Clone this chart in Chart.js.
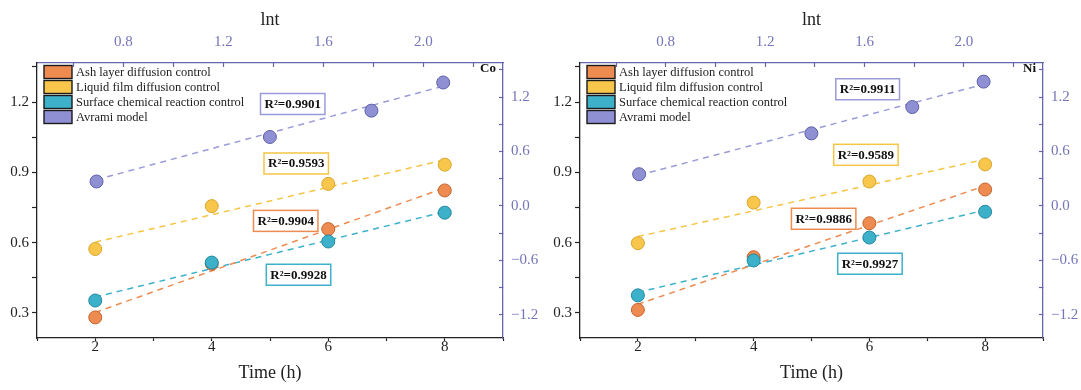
<!DOCTYPE html>
<html><head><meta charset="utf-8">
<script src="https://cdn.jsdelivr.net/npm/chart.js@4/dist/chart.umd.min.js"></script>
<style>
html,body{margin:0;padding:0;background:#fff;}
#wrap{position:relative;width:1081px;height:390px;overflow:hidden;}
canvas{position:absolute;top:0;}
</style></head><body>
<div id="wrap">
<canvas id="co" width="540" height="390" style="left:0"></canvas>
<canvas id="ni" width="541" height="390" style="left:540px"></canvas>
</div>
<script>
// ---------- data ----------
const timeH = [2, 4, 6, 8];
const lnT = [0.693, 1.386, 1.792, 2.079];
const fitT = [2, 8];
const fitLnT = [0.693, 2.079];
const seriesNames = ['Ash layer diffusion control', 'Liquid film diffusion control', 'Surface chemical reaction control', 'Avrami model'];

const coAsh = [0.281, 0.510, 0.658, 0.823];
const coLiquid = [0.573, 0.756, 0.851, 0.933];
const coSurface = [0.353, 0.515, 0.605, 0.728];
const coAvrami = [0.27, 0.76, 1.05, 1.36];
const coFitAsh = [0.302, 0.834];
const coFitLiquid = [0.602, 0.954];
const coFitSurface = [0.368, 0.732];
const coFitAvrami = [0.29, 1.32];
const coR2 = ['0.9904', '0.9593', '0.9928', '0.9901'];

const niAsh = [0.313, 0.538, 0.683, 0.827];
const niLiquid = [0.598, 0.771, 0.861, 0.934];
const niSurface = [0.375, 0.524, 0.622, 0.732];
const niAvrami = [0.35, 0.80, 1.09, 1.37];
const niFitAsh = [0.337, 0.843];
const niFitLiquid = [0.626, 0.956];
const niFitSurface = [0.388, 0.739];
const niFitAvrami = [0.34, 1.34];
const niR2 = ['0.9886', '0.9589', '0.9927', '0.9911'];

const timeTicks = [1, 2, 3, 4, 5, 6, 7, 8, 9];
const timeLabels = [2, 4, 6, 8];
const lntTicks = [0.6, 0.8, 1.0, 1.2, 1.4, 1.6, 1.8, 2.0, 2.2];
const lntLabels = [0.8, 1.2, 1.6, 2.0];
const leftTicks = [0.3, 0.45, 0.6, 0.75, 0.9, 1.05, 1.2, 1.35];
const leftLabels = [0.3, 0.6, 0.9, 1.2];
const rightTicks = [-1.2, -0.9, -0.6, -0.3, 0, 0.3, 0.6, 0.9, 1.2, 1.5];
const rightLabels = [-1.2, -0.6, 0, 0.6, 1.2];

// ---------- styles ----------
const fillCols = ['#EE8B50', '#F7C64A', '#3DB1CA', '#8F90D4'];
const edgeCols = ['#C4652D', '#D7A62C', '#1F889F', '#5E60A8'];
const lineCols = ['#EE8B50', '#F5C545', '#3DB1CA', '#9A9BD9'];
const purpleAxis = '#6566AE';
const purpleText = '#7475B9';
const SERIF = '"Liberation Serif", "DejaVu Serif", serif';

function hasLabel(list, v) { return list.some(l => Math.abs(l - v) < 1e-6); }
function fmt1(v) { return v.toFixed(1).replace('-', '\u2212'); }

function makeChart(id, d) {
  const ptSets = [d.ash, d.liquid, d.surface];
  const fitSets = [d.fitAsh, d.fitLiquid, d.fitSurface];
  const datasets = [];
  fitSets.forEach((f, i) => {
    datasets.push({
      type: 'line', label: 'fit' + i,
      data: fitT.map((t, k) => ({ x: t, y: f[k] })),
      borderColor: lineCols[i], borderWidth: 1.5, borderDash: [6, 5],
      pointRadius: 0, fill: false, xAxisID: 'x', yAxisID: 'y', order: 20
    });
  });
  datasets.push({
    type: 'line', label: 'fitA',
    data: fitLnT.map((t, k) => ({ x: t, y: d.fitAvrami[k] })),
    borderColor: lineCols[3], borderWidth: 1.5, borderDash: [6, 5],
    pointRadius: 0, fill: false, xAxisID: 'x2', yAxisID: 'y2', order: 20
  });
  const ptOrder = [5, 4, 3, 2];
  ptSets.forEach((s, i) => {
    datasets.push({
      type: 'scatter', label: seriesNames[i],
      data: timeH.map((t, k) => ({ x: t, y: s[k] })),
      backgroundColor: fillCols[i], borderColor: edgeCols[i], borderWidth: 1,
      pointRadius: 6.5, pointHoverRadius: 6.5, xAxisID: 'x', yAxisID: 'y', order: ptOrder[i]
    });
  });
  datasets.push({
    type: 'scatter', label: seriesNames[3],
    data: lnT.map((t, k) => ({ x: t, y: d.avrami[k] })),
    backgroundColor: fillCols[3], borderColor: edgeCols[3], borderWidth: 1,
    pointRadius: 6.5, pointHoverRadius: 6.5, xAxisID: 'x2', yAxisID: 'y2', order: ptOrder[3]
  });

  const tickSet = (arr) => (scale) => { scale.ticks = arr.map(v => ({ value: v })); };

  const overlay = {
    id: 'overlay',
    afterDatasetsDraw(chart) {
      const ctx = chart.ctx, ca = chart.chartArea;
      const sx = chart.scales.x, sy = chart.scales.y;
      ctx.save();
      seriesNames.forEach((name, i) => {
        const top = ca.top + 2.5 + i * 15;
        ctx.fillStyle = fillCols[i];
        ctx.fillRect(ca.left + 7, top, 28, 13);
        ctx.lineWidth = 1.4;
        ctx.strokeStyle = '#1a1a1a';
        ctx.strokeRect(ca.left + 7, top, 28, 13);
        ctx.fillStyle = '#222';
        ctx.font = '12.5px ' + SERIF;
        ctx.textAlign = 'left';
        ctx.textBaseline = 'middle';
        ctx.fillText(name, ca.left + 39, top + 7);
      });
      ctx.font = 'bold 13px ' + SERIF;
      ctx.textAlign = 'right';
      ctx.fillStyle = '#111';
      ctx.fillText(d.metal, ca.right - 7, ca.top + 6);
      d.r2.forEach((r, i) => {
        const p = d.r2Pos[i];
        const cx = sx.getPixelForValue(p[0]);
        const cy = sy.getPixelForValue(p[1]);
        const txt = 'R\u00B2=' + r;
        ctx.font = 'bold 13px ' + SERIF;
        const w = ctx.measureText(txt).width + 8;
        const h = 21;
        ctx.fillStyle = '#fff';
        ctx.fillRect(cx - w / 2, cy - h / 2, w, h);
        ctx.strokeStyle = lineCols[i];
        ctx.lineWidth = 1.5;
        ctx.strokeRect(cx - w / 2, cy - h / 2, w, h);
        ctx.fillStyle = '#111';
        ctx.textAlign = 'center';
        ctx.textBaseline = 'middle';
        ctx.fillText(txt, cx, cy + 0.5);
      });
      ctx.restore();
    }
  };

  return new Chart(document.getElementById(id), {
    data: { datasets },
    options: {
      responsive: false, animation: false, devicePixelRatio: 1,
      layout: { padding: 0 },
      plugins: { legend: { display: false }, tooltip: { enabled: false } },
      scales: {
        x: {
          type: 'linear', position: 'bottom', min: 1, max: 9, bounds: 'data',
          afterBuildTicks: tickSet(timeTicks),
          afterFit: (s) => { s.height = d.bottomH; },
          border: { display: true, color: '#222', width: 1.3 },
          grid: { drawOnChartArea: false, drawTicks: true, tickLength: 3, tickColor: '#222', tickWidth: 1.2 },
          ticks: { autoSkip: false, maxRotation: 0, padding: -1, color: '#222',
            font: { family: SERIF, size: 15, lineHeight: 1 },
            callback: (v) => hasLabel(timeLabels, v) ? String(v) : '' },
          title: { display: true, text: 'Time (h)', color: '#222',
            font: { family: SERIF, size: 18, lineHeight: 1.2 }, padding: { top: 0, bottom: 6 } }
        },
        x2: {
          type: 'linear', position: 'top', min: 0.455, max: 2.318, bounds: 'data',
          afterBuildTicks: tickSet(lntTicks),
          afterFit: (s) => { s.height = d.topH; },
          border: { display: true, color: purpleAxis, width: 1.3 },
          grid: { drawOnChartArea: false, drawTicks: true, tickLength: -4, tickColor: purpleAxis, tickWidth: 1.2 },
          ticks: { autoSkip: false, maxRotation: 0, padding: 17, color: purpleText,
            font: { family: SERIF, size: 15, lineHeight: 1 },
            callback: (v) => hasLabel(lntLabels, v) ? v.toFixed(1) : '' },
          title: { display: true, text: 'lnt', color: '#222',
            font: { family: SERIF, size: 18, lineHeight: 1.2 }, padding: { top: 9.5, bottom: 0 } }
        },
        y: {
          type: 'linear', position: 'left', min: 0.193, max: 1.367, bounds: 'data',
          afterBuildTicks: tickSet(leftTicks),
          afterFit: (s) => { s.width = d.leftW; },
          border: { display: true, color: '#222', width: 1.3 },
          grid: { drawOnChartArea: false, drawTicks: true, tickLength: 5, tickColor: '#222', tickWidth: 1.2 },
          ticks: { autoSkip: false, padding: 3, color: '#222',
            font: { family: SERIF, size: 15, lineHeight: 1 },
            callback: (v) => hasLabel(leftLabels, v) ? fmt1(v) : '' }
        },
        y2: {
          type: 'linear', position: 'right', min: -1.454, max: 1.575, bounds: 'data',
          afterBuildTicks: tickSet(rightTicks),
          afterFit: (s) => { s.width = d.rightW; },
          border: { display: true, color: purpleAxis, width: 1.3 },
          grid: { drawOnChartArea: false, drawTicks: true, tickLength: -4, tickColor: purpleAxis, tickWidth: 1.2 },
          ticks: { autoSkip: false, padding: 12, color: purpleText,
            font: { family: SERIF, size: 15, lineHeight: 1 },
            callback: (v) => hasLabel(rightLabels, v) ? fmt1(v) : '' }
        }
      }
    },
    plugins: [overlay]
  });
}

makeChart('co', {
  metal: 'Co', ash: coAsh, liquid: coLiquid, surface: coSurface, avrami: coAvrami,
  fitAsh: coFitAsh, fitLiquid: coFitLiquid, fitSurface: coFitSurface, fitAvrami: coFitAvrami,
  r2: coR2, r2Pos: [[5.27, 0.693], [5.45, 0.938], [5.49, 0.463], [5.39, 1.192]],
  leftW: 37, rightW: 37, topH: 63, bottomH: 52
});
makeChart('ni', {
  metal: 'Ni', ash: niAsh, liquid: niLiquid, surface: niSurface, avrami: niAvrami,
  fitAsh: niFitAsh, fitLiquid: niFitLiquid, fitSurface: niFitSurface, fitAvrami: niFitAvrami,
  r2: niR2, r2Pos: [[5.21, 0.702], [5.94, 0.975], [6.01, 0.51], [5.97, 1.255]],
  leftW: 40, rightW: 38, topH: 63, bottomH: 52
});
</script>
</body></html>
